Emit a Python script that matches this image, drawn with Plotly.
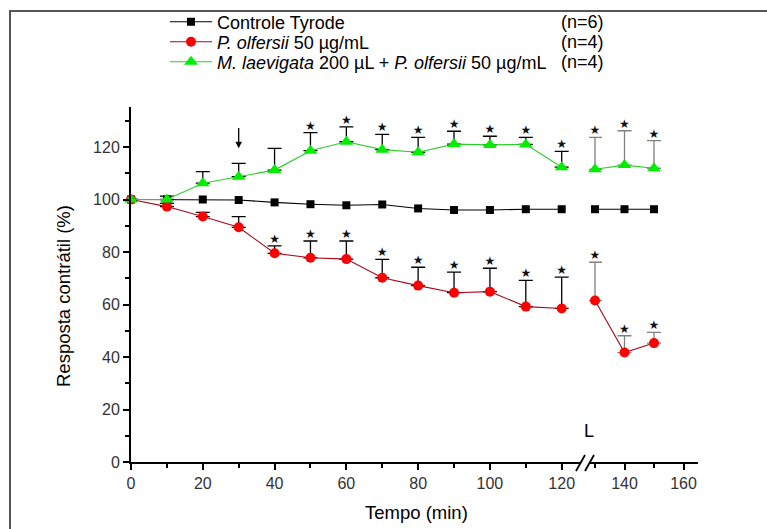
import plotly.graph_objects as go

# ---------------- data ----------------
t_pre = [0, 10, 20, 30, 40, 50, 60, 70, 80, 90, 100, 110, 120]
t_post = [130, 140, 150]

ctrl_pre = [100, 100, 100, 99.8, 98.9, 98.2, 97.8, 98.1, 96.6, 96.0, 96.0, 96.3, 96.3]
ctrl_post = [96.3, 96.3, 96.3]

olf_pre = [100, 97.3, 93.5, 89.4, 79.5, 77.8, 77.3, 70.2, 67.2, 64.5, 64.9, 59.2, 58.5]
olf_post = [61.5, 41.7, 45.3]
olf_err_pre = [0, 1.2, 1.6, 4.1, 2.8, 6.4, 6.9, 7.0, 7.0, 7.8, 8.9, 10.0, 11.9]
olf_err_post = [14.6, 6.4, 4.1]
olf_sig_pre = [False, False, False, False, True, True, True, True, True, True, True, True, True]
olf_sig_post = [True, True, True]

lae_pre = [100, 100, 106.2, 108.7, 111.2, 118.6, 122.0, 119.0, 118.0, 121.1, 120.8, 121.0, 112.3]
lae_post = [111.5, 113.1, 111.9]
lae_err_pre = [0, 1.3, 4.4, 5.1, 8.3, 6.9, 5.7, 5.8, 5.7, 4.9, 3.3, 2.7, 6.0]
lae_err_post = [12.2, 13.1, 10.5]
lae_sig_pre = [False, False, False, False, False, True, True, True, True, True, True, True, True]
lae_sig_post = [True, True, True]

names = ["Controle Tyrode",
         "<i>P. olfersii</i> 50 \u00b5g/mL",
         "<i>M. laevigata</i> 200 \u00b5L + <i>P. olfersii</i> 50 \u00b5g/mL"]
n_labels = ["(n=6)", "(n=4)", "(n=4)"]

FONT = "Arial, Liberation Sans, sans-serif"
W, H = 767, 529
ML, MR, MT, MB = 131, 69, 107, 67
PW, PH = W - ML - MR, H - MT - MB


def px2paper_x(px):
    return (px - ML) / PW


def px2paper_y(py):
    return (H - MB - py) / PH


fig = go.Figure()

RED_LINE = "#a80818"
RED = "#ff0000"
GREEN_LINE = "#2ccc2c"
GREEN = "#00ee00"
LEGENDS = ["legend", "legend2", "legend3"]


def add_series(x, y, xa, idx, show, color_line, color_mark, symbol, msize, err=None, errcolor="black"):
    kw = {}
    if err is not None:
        kw["error_y"] = dict(type="data", array=err, symmetric=False, arrayminus=[0] * len(err),
                             color=errcolor, thickness=1.3, width=7)
    fig.add_trace(go.Scatter(
        x=x, y=y, xaxis=xa, yaxis="y", mode="lines+markers", name=names[idx], showlegend=show,
        legend=LEGENDS[idx], legendgroup=names[idx], cliponaxis=False,
        line=dict(color=color_line, width=1.1),
        marker=dict(symbol=symbol, size=msize, color=color_mark, line=dict(width=0)),
        **kw))


def add_stars(x, y, err, sig, xa):
    xs = [a for a, s in zip(x, sig) if s]
    ys = [b + e for b, e, s in zip(y, err, sig) if s]
    fig.add_trace(go.Scatter(
        x=xs, y=ys, xaxis=xa, yaxis="y", mode="text", text=["\u2605"] * len(xs),
        textposition="top center", textfont=dict(family="DejaVu Sans", size=12, color="#111"),
        showlegend=False, cliponaxis=False, hoverinfo="skip"))


# control
add_series(t_pre, ctrl_pre, "x", 0, True, "black", "black", "square", 8)
add_series(t_post, ctrl_post, "x2", 0, False, "black", "black", "square", 8)
# P. olfersii
add_series(t_pre, olf_pre, "x", 1, True, RED_LINE, RED, "circle", 10, olf_err_pre, "black")
add_series(t_post, olf_post, "x2", 1, False, RED_LINE, RED, "circle", 10, olf_err_post, "#808080")
# M. laevigata + P. olfersii
add_series(t_pre, lae_pre, "x", 2, True, GREEN_LINE, GREEN, "triangle-up", 12, lae_err_pre, "black")
add_series(t_post, lae_post, "x2", 2, False, GREEN_LINE, GREEN, "triangle-up", 12, lae_err_post, "#808080")

add_stars(t_pre, olf_pre, olf_err_pre, olf_sig_pre, "x")
add_stars(t_post, olf_post, olf_err_post, olf_sig_post, "x2")
add_stars(t_pre, lae_pre, lae_err_pre, lae_sig_pre, "x")
add_stars(t_post, lae_post, lae_err_post, lae_sig_post, "x2")

# axis break geometry
x1_end_px, x2_start_px, x_end_px = 580, 589, 698
x1_scale = (561.7 - 131) / 120.0
x2_scale = (683.5 - 595) / 30.0
x1_range = [0, (x1_end_px - ML) / x1_scale]
x2_range = [130 - (595 - x2_start_px) / x2_scale, 130 + (x_end_px - 595) / x2_scale]

axis_common = dict(showline=True, linecolor="black", linewidth=2, ticks="outside", ticklen=6,
                   tickwidth=1.5, tickcolor="black", showgrid=False, zeroline=False,
                   tickfont=dict(family=FONT, size=16, color="#333"),
                   minor=dict(ticks="outside", ticklen=4, tickwidth=1.5, tickcolor="black", dtick=10))

legend_common = dict(xanchor="left", yanchor="middle", bgcolor="rgba(0,0,0,0)",
                     font=dict(family=FONT, size=18, color="black"), itemwidth=42)

fig.update_layout(
    width=W, height=H,
    margin=dict(l=ML, r=MR, t=MT, b=MB, autoexpand=False),
    paper_bgcolor="white", plot_bgcolor="white",
    font=dict(family=FONT, color="black"),
    xaxis=dict(domain=[0, px2paper_x(x1_end_px)], range=x1_range, tick0=0, dtick=20,
               anchor="y", **axis_common),
    xaxis2=dict(domain=[px2paper_x(x2_start_px), 1], range=x2_range, tick0=0, dtick=20,
                anchor="y", **axis_common),
    yaxis=dict(range=[0, PH / 2.625], tick0=0, dtick=20, anchor="x", **axis_common),
    legend=dict(x=px2paper_x(165), y=px2paper_y(22), **legend_common),
    legend2=dict(x=px2paper_x(165), y=px2paper_y(42), **legend_common),
    legend3=dict(x=px2paper_x(165), y=px2paper_y(62), **legend_common),
    showlegend=True,
)

annotations = [
    # grey border of the original picture (only its top and left sides fall inside the page)
    dict(text=" ", x=px2paper_x(8.5), y=px2paper_y(9.5), xref="paper", yref="paper",
         xanchor="left", yanchor="top", showarrow=False, width=W + 40, height=H + 40,
         bordercolor="#555", borderwidth=2, borderpad=0, bgcolor="rgba(0,0,0,0)"),
    dict(text="Resposta contrátil (%)", x=px2paper_x(63), y=px2paper_y(296), xref="paper", yref="paper",
         xanchor="center", yanchor="middle",
         textangle=-90, showarrow=False, font=dict(family=FONT, size=18.5, color="black")),
    dict(text="Tempo (min)", x=px2paper_x(416), y=px2paper_y(512), xref="paper", yref="paper",
         xanchor="center", yanchor="middle",
         showarrow=False, font=dict(family=FONT, size=18.5, color="black")),
    dict(text="L", x=128, y=12, xref="x2", yref="y", showarrow=False,
         font=dict(family=FONT, size=18, color="black")),
    dict(x=30, y=119.5, ax=30, ay=127.8, xref="x", yref="y", axref="x", ayref="y",
         showarrow=True, arrowhead=2, arrowsize=1, arrowwidth=1.3, arrowcolor="black", text=""),
]
for i, lab in enumerate(n_labels):
    annotations.append(dict(text=lab, x=px2paper_x(606), y=px2paper_y(22 + 20 * i), xref="paper",
                            yref="paper", xanchor="right", yanchor="middle", showarrow=False,
                            font=dict(family=FONT, size=18, color="black")))
fig.update_layout(annotations=annotations)

# axis-break marks
shapes = []
for (xa, xb) in [(576, 585), (585, 594)]:
    shapes.append(dict(type="line", xref="paper", yref="paper",
                       x0=px2paper_x(xa), y0=px2paper_y(471), x1=px2paper_x(xb), y1=px2paper_y(455),
                       line=dict(color="black", width=1.8)))
fig.update_layout(shapes=shapes)

page_js = "document.body.style.margin='0px';document.body.style.overflow='hidden';"

fig.write_html("out.html", config={"displayModeBar": False}, post_script=page_js)
